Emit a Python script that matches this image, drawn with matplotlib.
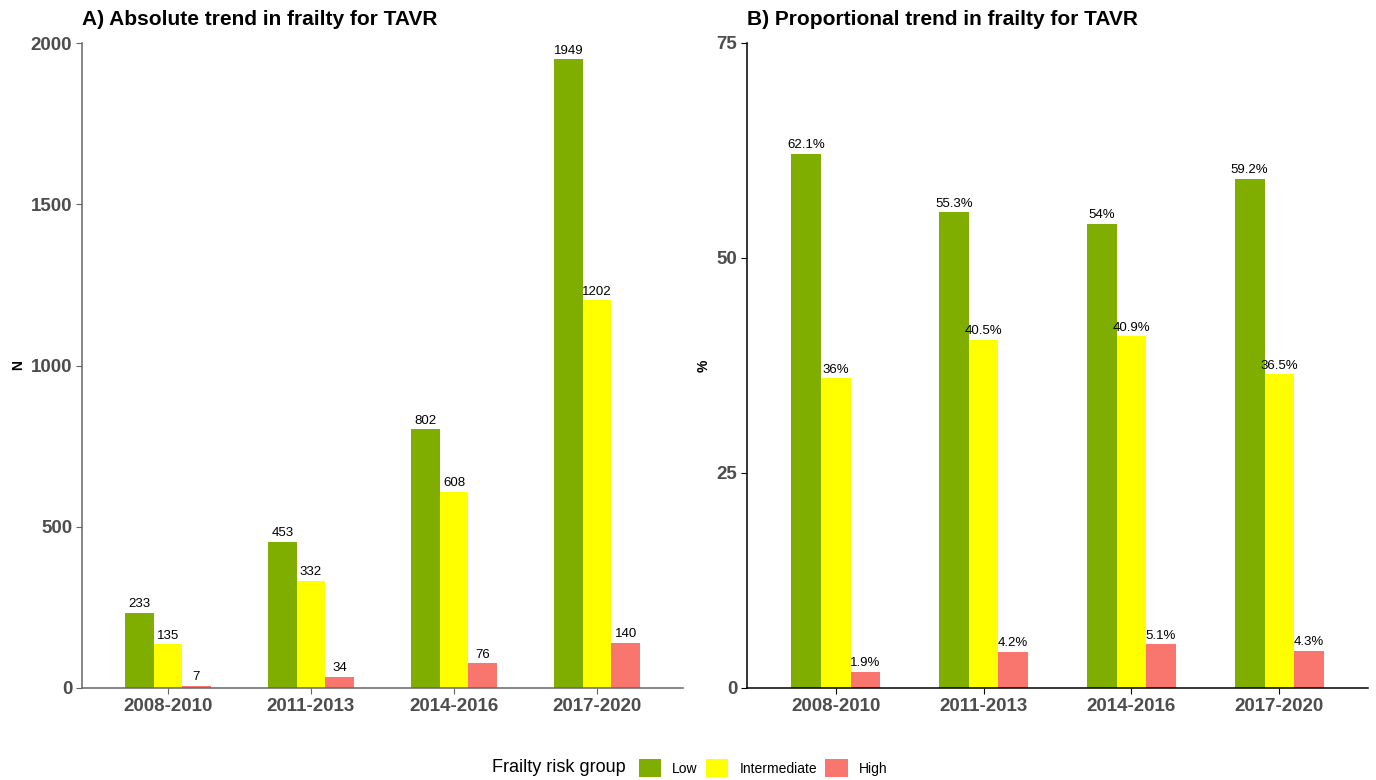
import numpy as np
import matplotlib.pyplot as plt

plt.rcParams['font.family'] = ['Liberation Sans', 'DejaVu Sans']

periods = ['2008-2010', '2011-2013', '2014-2016', '2017-2020']
groups = ['Low', 'Intermediate', 'High']
colors = ['#7FAE00', '#FFFF00', '#F8766D']

counts_low = [233, 453, 802, 1949]
counts_mid = [135, 332, 608, 1202]
counts_high = [7, 34, 76, 140]

pct_low = [62.1, 55.3, 54, 59.2]
pct_mid = [36, 40.5, 40.9, 36.5]
pct_high = [1.9, 4.2, 5.1, 4.3]

fig = plt.figure(figsize=(13.76, 7.8), dpi=100)
axA = fig.add_axes([82/1376, 1-688/780, (683-82)/1376, (688-43)/780])
axB = fig.add_axes([747/1376, 1-688/780, (1368-747)/1376, (688-43)/780])

def draw(ax, series, ymax, yticks, ylabel, title, fmt, spine_col):
    x = np.arange(len(periods)) + 1
    w = 0.2
    for i, (vals, c) in enumerate(zip(series, colors)):
        xs = x + (i - 1) * w
        ax.bar(xs, vals, width=w, color=c, label=groups[i])
        for xi, v in zip(xs, vals):
            ax.text(xi, v + ymax * 0.004, fmt(v), ha='center', va='bottom',
                    fontsize=9.5, color='black')
    ax.set_xlim(0.4, 4.6)
    ax.set_ylim(0, ymax)
    ax.set_xticks(x)
    ax.set_xticklabels(periods)
    ax.set_yticks(yticks)
    for lab in ax.get_xticklabels() + ax.get_yticklabels():
        lab.set_fontweight('bold')
        lab.set_color('#4d4d4d')
        lab.set_fontsize(13.5)
    ax.tick_params(length=4, color=spine_col, pad=3)
    ax.set_ylabel(ylabel, fontweight='bold', fontsize=10, labelpad=4)
    ax.set_title(title, fontweight='bold', fontsize=15, loc='left', pad=13)
    for s in ['top', 'right']:
        ax.spines[s].set_visible(False)
    for s in ['left', 'bottom']:
        ax.spines[s].set_color(spine_col)
        ax.spines[s].set_linewidth(1.1)

draw(axA, [counts_low, counts_mid, counts_high], 2000, [0, 500, 1000, 1500, 2000],
     'N', 'A) Absolute trend in frailty for TAVR', lambda v: f'{v}', '#666666')
draw(axB, [pct_low, pct_mid, pct_high], 75, [0, 25, 50, 75],
     '%', 'B) Proportional trend in frailty for TAVR', lambda v: f'{v:g}%', 'black')

# legend at the bottom: title on the left, keys to the right
fig.text(492/1376, 1-768/780, 'Frailty risk group', ha='left', va='center', fontsize=13)
handles, labels = axA.get_legend_handles_labels()
fig.legend(handles, labels, loc='center left', bbox_to_anchor=(632/1376, 1-768/780),
           ncol=3, frameon=False, fontsize=10, handlelength=1.6, handleheight=1.6,
           columnspacing=0.6, handletextpad=0.8, borderpad=0)

fig.savefig('out.png', dpi=100)
